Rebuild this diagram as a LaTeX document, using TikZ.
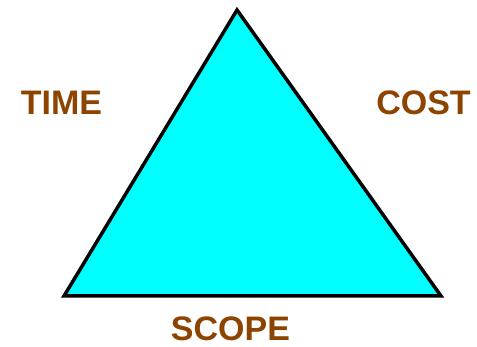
\documentclass[tikz,border=0pt]{standalone}
\usepackage{fontspec}
\setmainfont{Liberation Sans}
\usetikzlibrary{positioning}
\definecolor{corner}{RGB}{140,68,0}
\definecolor{area}{RGB}{0,255,255}

\begin{document}
\begin{tikzpicture}[
  x=1pt, y=-1pt,
  triangle/.style={draw=black, line width=3.5pt, line join=miter, fill=area},
  constraint/.style={text=corner, font=\bfseries\fontsize{34}{34}\selectfont, inner sep=0pt},
]
\useasboundingbox (0,0) rectangle (477,347);

% Corners of the triangle
\coordinate (top) at (237,10);
\coordinate (left) at (64,296);
\coordinate (right) at (441,296);

\draw[triangle] (top) -- (left) -- (right) -- cycle;

% Constraint labels
\node[constraint] (time) at (61.5,103) {TIME};
\node[constraint] (cost) at (423.5,103) {COST};
\node[constraint] (scope) at (230.5,329) {SCOPE};

\end{tikzpicture}
\end{document}
